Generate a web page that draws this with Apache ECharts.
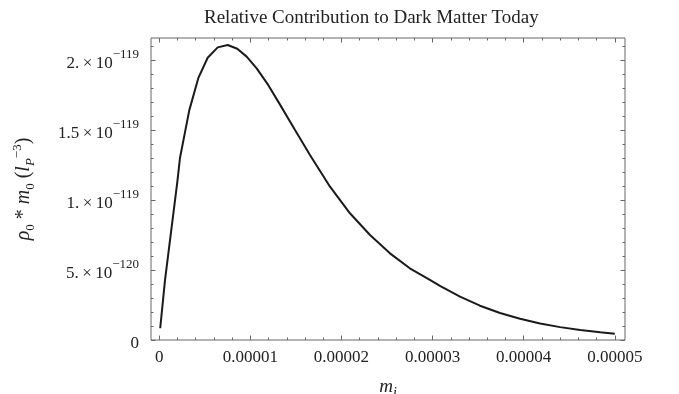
<!DOCTYPE html>
<html>
<head>
<meta charset="utf-8">
<script src="https://cdn.jsdelivr.net/npm/echarts@6/dist/echarts.min.js"></script>
<style>html,body{margin:0;padding:0;background:#fff;}#c{width:679px;height:394px;}</style>
</head>
<body>
<div id="c"></div>
<script>
// Data
const massValues = [1.0e-7, 6.3e-7, 2.0e-6, 2.27e-6, 3.29e-6, 4.28e-6, 5.31e-6, 6.41e-6, 7.51e-6, 8.56e-6, 9.59e-6, 1.069e-5, 1.197e-5, 1.317e-5, 1.49e-5, 1.654e-5, 1.874e-5, 2.093e-5, 2.313e-5, 2.532e-5, 2.75e-5, 2.97e-5, 3.081e-5, 3.301e-5, 3.52e-5, 3.74e-5, 3.96e-5, 4.18e-5, 4.40e-5, 4.62e-5, 4.84e-5, 5.0e-5];
// density in units of 1e-120 l_P^-3
const densityE120 = [0.84, 4.3, 11.4, 13.0, 16.4, 18.7, 20.16, 20.9, 21.07, 20.8, 20.24, 19.4, 18.2, 16.9, 15.0, 13.21, 10.95, 9.05, 7.5, 6.19, 5.12, 4.29, 3.87, 3.1, 2.45, 1.93, 1.52, 1.18, 0.92, 0.72, 0.55, 0.45];

const xTickValues = [0, 1e-5, 2e-5, 3e-5, 4e-5, 5e-5];
const xTickLabels = ['0', '0.00001', '0.00002', '0.00003', '0.00004', '0.00005'];
const xMinorTicks = [2e-6, 4e-6, 6e-6, 8e-6, 1.2e-5, 1.4e-5, 1.6e-5, 1.8e-5, 2.2e-5, 2.4e-5, 2.6e-5, 2.8e-5, 3.2e-5, 3.4e-5, 3.6e-5, 3.8e-5, 4.2e-5, 4.4e-5, 4.6e-5, 4.8e-5];
const yTickValues = [0, 5, 10, 15, 20];
const yTickMantissa = ['0', '5.', '1.', '1.5', '2.'];
const yTickExponent = ['', '\u2212120', '\u2212119', '\u2212119', '\u2212119'];
const yMinorTicks = [1, 2, 3, 4, 6, 7, 8, 9, 11, 12, 13, 14, 16, 17, 18, 19, 21];

const xMin = -0.91e-6, xMax = 5.112e-5;
const yMin = 0, yMax = 21.57;

const FONT = '"Liberation Serif", "DejaVu Serif", serif';
const frameColor = '#666';
const textColor = '#222';
const gridRect = {left: 151, top: 38, right: 54, bottom: 54, containLabel: false, outerBoundsMode: 'none'};

function xAxisDef(gi, pos, vals, len, labels) {
  return {
    gridIndex: gi, type: 'value', min: xMin, max: xMax, position: pos,
    axisLine: {show: false, onZero: false},
    splitLine: {show: false},
    axisTick: {show: true, inside: true, length: len, customValues: vals, lineStyle: {color: frameColor, width: 1}},
    axisLabel: labels ? {
      show: true, customValues: xTickValues, margin: 9,
      fontFamily: FONT, fontSize: 17, color: textColor,
      formatter: function (v) { const i = xTickValues.findIndex(t => Math.abs(t - v) < 1e-9); return i >= 0 ? xTickLabels[i] : ''; }
    } : {show: false}
  };
}
function yAxisDef(gi, pos, vals, len, labels) {
  return {
    gridIndex: gi, type: 'value', min: yMin, max: yMax, position: pos,
    axisLine: {show: false, onZero: false},
    splitLine: {show: false},
    axisTick: {show: true, inside: true, length: len, customValues: vals, lineStyle: {color: frameColor, width: 1}},
    axisLabel: labels ? {
      show: true, customValues: yTickValues, margin: 12,
      fontFamily: FONT, fontSize: 17, color: textColor,
      formatter: function (v) {
        const i = yTickValues.findIndex(t => Math.abs(t - v) < 1e-9);
        if (i < 0) return '';
        if (!yTickExponent[i]) return '{m|' + yTickMantissa[i] + '}';
        return '{m|' + yTickMantissa[i] + '\u2009\u00d7\u200910}{s|' + yTickExponent[i] + '}';
      },
      rich: {
        m: {fontFamily: FONT, fontSize: 17, color: textColor, lineHeight: 24, verticalAlign: 'bottom'},
        s: {fontFamily: FONT, fontSize: 13, color: textColor, lineHeight: 13, verticalAlign: 'top'}
      }
    } : {show: false}
  };
}

const grids = [0, 1, 2, 3].map(() => Object.assign({}, gridRect));
grids[0].show = true;
grids[0].borderColor = frameColor;
grids[0].borderWidth = 1;

const xAxes = [
  xAxisDef(0, 'bottom', xTickValues, 4.5, true),
  xAxisDef(1, 'top', xTickValues, 4.5, false),
  xAxisDef(2, 'bottom', xMinorTicks, 2.5, false),
  xAxisDef(3, 'top', xMinorTicks, 2.5, false)
];
xAxes[0].name = '{i|m}{sub|i}';
xAxes[0].nameLocation = 'middle';
xAxes[0].nameGap = 34;
xAxes[0].nameTextStyle = {
  rich: {
    i: {fontFamily: FONT, fontStyle: 'italic', fontSize: 19, color: textColor, lineHeight: 26, verticalAlign: 'middle'},
    sub: {fontFamily: FONT, fontStyle: 'italic', fontSize: 14, color: '#111', lineHeight: 14, verticalAlign: 'bottom'}
  }
};
const yAxes = [
  yAxisDef(0, 'left', yTickValues, 4.5, true),
  yAxisDef(1, 'right', yTickValues, 4.5, false),
  yAxisDef(2, 'left', yMinorTicks, 2.5, false),
  yAxisDef(3, 'right', yMinorTicks, 2.5, false)
];
yAxes[0].name = '{i|\u03c1}{sub|0}{t| * }{i|m}{sub|0}{t| (}{i|l}{subi|P}{sup|\u22123}{t|)}';
yAxes[0].nameLocation = 'middle';
yAxes[0].nameGap = 114;
yAxes[0].nameRotate = 90;
yAxes[0].nameTextStyle = {
  rich: {
    i: {fontFamily: FONT, fontStyle: 'italic', fontSize: 20, color: textColor, lineHeight: 26, verticalAlign: 'middle'},
    t: {fontFamily: FONT, fontSize: 20, color: textColor, lineHeight: 26, verticalAlign: 'middle'},
    sub: {fontFamily: FONT, fontSize: 13, color: textColor, lineHeight: 13, verticalAlign: 'bottom'},
    subi: {fontFamily: FONT, fontStyle: 'italic', fontSize: 13, color: textColor, lineHeight: 13, verticalAlign: 'bottom'},
    sup: {fontFamily: FONT, fontSize: 13, color: textColor, lineHeight: 13, verticalAlign: 'top'}
  }
};

const chart = echarts.init(document.getElementById('c'), null, {renderer: 'canvas'});
chart.setOption({
  animation: false,
  backgroundColor: '#fff',
  title: {
    text: 'Relative Contribution to Dark Matter Today',
    left: 199, top: 4,
    textStyle: {fontFamily: FONT, fontSize: 19, fontWeight: 'normal', color: textColor}
  },
  grid: grids,
  xAxis: xAxes,
  yAxis: yAxes,
  series: [{
    type: 'line',
    xAxisIndex: 0, yAxisIndex: 0,
    data: massValues.map((m, i) => [m, densityE120[i]]),
    showSymbol: false,
    symbol: 'none',
    lineStyle: {color: '#1a1a1a', width: 2},
    smooth: false,
    clip: true
  }]
});
</script>
</body>
</html>
